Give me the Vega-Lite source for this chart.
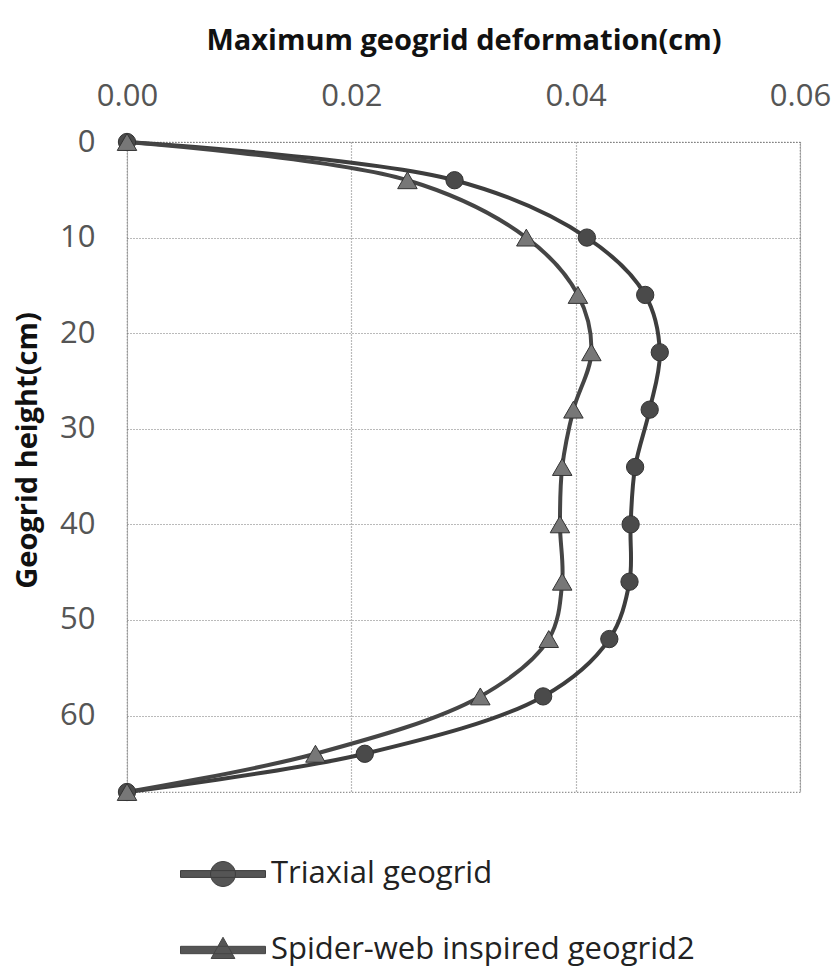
{
  "$schema": "https://vega.github.io/schema/vega-lite/v6.json",
  "autosize": {"type": "none"},
  "padding": {"left": 127, "top": 142, "right": 37, "bottom": 178},
  "width": 673,
  "height": 650,
  "background": "white",
  "config": {
    "view": {"stroke": "#666", "strokeDash": [1, 2], "strokeWidth": 1.2},
    "font": "Open Sans"
  },
  "data": {
    "values": [
      {"series": "Triaxial geogrid", "h": 0, "d": 0},
      {"series": "Triaxial geogrid", "h": 4, "d": 0.0292},
      {"series": "Triaxial geogrid", "h": 10, "d": 0.041},
      {"series": "Triaxial geogrid", "h": 16, "d": 0.0462},
      {"series": "Triaxial geogrid", "h": 22, "d": 0.0475},
      {"series": "Triaxial geogrid", "h": 28, "d": 0.0466},
      {"series": "Triaxial geogrid", "h": 34, "d": 0.0453},
      {"series": "Triaxial geogrid", "h": 40, "d": 0.0449},
      {"series": "Triaxial geogrid", "h": 46, "d": 0.0448},
      {"series": "Triaxial geogrid", "h": 52, "d": 0.043},
      {"series": "Triaxial geogrid", "h": 58, "d": 0.0371},
      {"series": "Triaxial geogrid", "h": 64, "d": 0.0212},
      {"series": "Triaxial geogrid", "h": 68, "d": 0},
      {"series": "Spider-web inspired geogrid2", "h": 0, "d": 0},
      {"series": "Spider-web inspired geogrid2", "h": 4, "d": 0.025},
      {"series": "Spider-web inspired geogrid2", "h": 10, "d": 0.0356},
      {"series": "Spider-web inspired geogrid2", "h": 16, "d": 0.0402},
      {"series": "Spider-web inspired geogrid2", "h": 22, "d": 0.0414},
      {"series": "Spider-web inspired geogrid2", "h": 28, "d": 0.0398},
      {"series": "Spider-web inspired geogrid2", "h": 34, "d": 0.0388},
      {"series": "Spider-web inspired geogrid2", "h": 40, "d": 0.0386},
      {"series": "Spider-web inspired geogrid2", "h": 46, "d": 0.0388},
      {"series": "Spider-web inspired geogrid2", "h": 52, "d": 0.0376},
      {"series": "Spider-web inspired geogrid2", "h": 58, "d": 0.0315},
      {"series": "Spider-web inspired geogrid2", "h": 64, "d": 0.0168},
      {"series": "Spider-web inspired geogrid2", "h": 68, "d": 0}
    ]
  },
  "encoding": {
    "x": {
      "field": "d", "type": "quantitative",
      "scale": {"domain": [0, 0.06], "nice": false, "zero": false},
      "axis": {
        "orient": "top", "values": [0, 0.02, 0.04, 0.06], "format": ".2f",
        "title": "Maximum geogrid deformation(cm)",
        "titleFont": "Open Sans", "titleFontSize": 29, "titleFontWeight": "bold", "titleColor": "#111",
        "titlePadding": 25,
        "labelFont": "Open Sans", "labelFontSize": 31, "labelColor": "#555", "labelPadding": 30,
        "labelFlush": false,
        "domain": false, "ticks": false,
        "grid": true, "gridColor": "#777", "gridDash": [1, 2], "gridWidth": 1.2
      }
    },
    "y": {
      "field": "h", "type": "quantitative",
      "scale": {"domain": [0, 68], "reverse": true, "nice": false, "zero": false},
      "axis": {
        "values": [0, 10, 20, 30, 40, 50, 60],
        "title": "Geogrid height(cm)",
        "titleFont": "Open Sans", "titleFontSize": 29, "titleFontWeight": "bold", "titleColor": "#111",
        "titleX": -85, "titleY": 308,
        "labelFont": "Open Sans", "labelFontSize": 31, "labelColor": "#555", "labelPadding": 32,
        "labelFlush": false,
        "domain": false, "ticks": false,
        "grid": true, "gridColor": "#777", "gridDash": [1, 2], "gridWidth": 1.2
      }
    }
  },
  "layer": [
    {
      "mark": {"type": "line", "interpolate": "catmull-rom", "strokeWidth": 4},
      "encoding": {
        "order": {"field": "h", "type": "quantitative"},
        "color": {
          "field": "series", "type": "nominal",
          "scale": {"domain": ["Triaxial geogrid", "Spider-web inspired geogrid2"], "range": ["#3d3d3d", "#454545"]},
          "legend": {
            "orient": "none", "legendX": 67, "legendY": 703,
            "title": null, "direction": "vertical",
            "symbolSize": 3211, "symbolType": "circle",
            "labelFont": "Open Sans", "labelFontSize": 31, "labelColor": "#222", "labelLimit": 1000,
            "labelOffset": 19, "rowPadding": 32, "padding": 0,
            "encode": {
              "symbols": {
                "update": {
                  "shape": {"signal": "datum.value === 'Triaxial geogrid' ? 'M-1.5,-0.12 L1.5,-0.12 L1.5,0.12 L-1.5,0.12 Z M0.44,0 A0.44,0.44 0 1,1 -0.44,0 A0.44,0.44 0 1,1 0.44,0 Z' : 'M-1.5,-0.13 L1.5,-0.13 L1.5,0.13 L-1.5,0.13 Z M0,-0.45 L0.42,0.3 L-0.42,0.3 Z'"},
                  "fill": {"value": "#555555"},
                  "stroke": {"value": "#333"},
                  "strokeWidth": {"value": 1},
                  "opacity": {"value": 1}
                }
              }
            }
          }
        }
      }
    },
    {
      "transform": [{"filter": "datum.series === 'Triaxial geogrid'"}],
      "mark": {"type": "point", "shape": "circle", "size": 300, "filled": true, "opacity": 1, "fill": "#4a4a4a", "stroke": "#333", "strokeWidth": 1}
    },
    {
      "transform": [{"filter": "datum.series === 'Spider-web inspired geogrid2'"}],
      "mark": {"type": "point", "shape": "triangle-up", "size": 380, "filled": true, "opacity": 1, "fill": "#777777", "stroke": "#333", "strokeWidth": 1}
    }
  ]
}
